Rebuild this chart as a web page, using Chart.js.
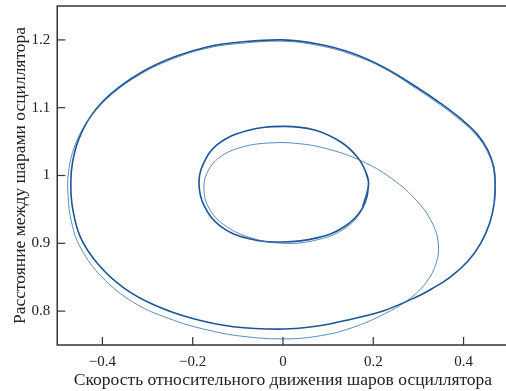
<!DOCTYPE html>
<html>
<head>
<meta charset="utf-8">
<script src="https://cdn.jsdelivr.net/npm/chart.js@4"></script>
<style>
  html, body { margin: 0; padding: 0; background: #fff; overflow: hidden; }
</style>
</head>
<body>
<canvas id="chart" width="510" height="391"></canvas>
<script>
// фазовый портрет: скорость (x) — расстояние (y)
const outerCycle = [
  [0.470, 0.988], [0.467, 1.012], [0.454, 1.037], [0.430, 1.061], [0.395, 1.083],
  [0.350, 1.106], [0.299, 1.129], [0.225, 1.159], [0.151, 1.181], [0.077, 1.194],
  [0.000, 1.200], [-0.092, 1.197], [-0.166, 1.190], [-0.240, 1.175], [-0.314, 1.152],
  [-0.380, 1.121], [-0.424, 1.089], [-0.452, 1.054], [-0.466, 1.020], [-0.470, 0.988],
  [-0.466, 0.952], [-0.448, 0.908], [-0.408, 0.868], [-0.352, 0.834], [-0.285, 0.809],
  [-0.200, 0.789], [-0.110, 0.777], [0.000, 0.7735], [0.077, 0.778], [0.151, 0.788],
  [0.225, 0.801], [0.299, 0.822], [0.330, 0.833], [0.372, 0.851], [0.410, 0.874],
  [0.438, 0.900], [0.458, 0.930], [0.468, 0.960]
];

const innerCycle = [
  [0.1895, 0.987], [0.183, 1.006], [0.165, 1.027], [0.129, 1.049], [0.070, 1.067],
  [0.000, 1.0725], [-0.080, 1.066], [-0.145, 1.046], [-0.178, 1.015], [-0.186, 0.987],
  [-0.175, 0.956], [-0.138, 0.925], [-0.077, 0.907], [0.000, 0.902], [0.075, 0.908],
  [0.135, 0.924], [0.176, 0.952]
];

// переходная траектория с внешнего цикла на внутренний
const transient = [
  [0.468, 0.960], [0.470, 0.988], [0.466, 1.011], [0.453, 1.035], [0.429, 1.059],
  [0.394, 1.081], [0.349, 1.104], [0.298, 1.127], [0.224, 1.158], [0.150, 1.179],
  [0.077, 1.192], [0.000, 1.198], [-0.092, 1.195], [-0.166, 1.188], [-0.240, 1.173],
  [-0.314, 1.150], [-0.382, 1.118], [-0.430, 1.083], [-0.461, 1.044], [-0.475, 1.005],
  [-0.476, 0.970], [-0.468, 0.930], [-0.448, 0.893], [-0.402, 0.851], [-0.329, 0.812],
  [-0.240, 0.786], [-0.166, 0.772], [-0.092, 0.763], [0.000, 0.759], [0.077, 0.763],
  [0.151, 0.775], [0.225, 0.796], [0.280, 0.818], [0.318, 0.843], [0.340, 0.872],
  [0.344, 0.900], [0.332, 0.928], [0.300, 0.960], [0.240, 0.996], [0.172, 1.022],
  [0.100, 1.039], [0.035, 1.047], [-0.030, 1.048], [-0.090, 1.042], [-0.140, 1.027],
  [-0.168, 1.004], [-0.175, 0.978], [-0.164, 0.952], [-0.132, 0.928], [-0.075, 0.909],
  [0.000, 0.900], [0.075, 0.905], [0.135, 0.921], [0.174, 0.948], [0.188, 0.980]
];

const xRange = [-0.5, 0.5];
const yRange = [0.75, 1.25];
const xLabelStep = 0.2;
const yLabelStep = 0.1;

const toPts = arr => arr.map(([x, y]) => ({ x, y }));
// замкнутая кривая: добавляем соседей по краям, чтобы сплайн был гладким в точке стыка
const closedPts = arr => toPts([arr[arr.length - 1], ...arr, arr[0], arr[1]]);
const fmt = v => {
  const r = Math.round(v * 100) / 100;
  return (r < 0 ? '\u2212' : '') + String(Math.abs(r));
};
const isLabelled = (v, step) => Math.abs(Math.round(v / step) * step - v) < 1e-6;

const serif = '"Liberation Serif", "DejaVu Serif", serif';

// рамка и внутренние засечки
const frameTicks = {
  id: 'frameTicks',
  afterDraw(chart) {
    const { ctx, chartArea: a, scales } = chart;
    ctx.save();
    ctx.strokeStyle = '#333';
    ctx.lineWidth = 1.5;
    ctx.strokeRect(a.left, a.top, a.right - a.left, a.bottom - a.top);
    ctx.lineWidth = 1.2;
    scales.x.ticks.forEach(t => {
      const px = scales.x.getPixelForValue(t.value);
      const len = isLabelled(t.value, xLabelStep) ? 8 : 4;
      ctx.beginPath(); ctx.moveTo(px, a.bottom); ctx.lineTo(px, a.bottom - len); ctx.stroke();
    });
    scales.y.ticks.forEach(t => {
      const py = scales.y.getPixelForValue(t.value);
      const len = isLabelled(t.value, yLabelStep) ? 8 : 4;
      ctx.beginPath(); ctx.moveTo(a.left, py); ctx.lineTo(a.left + len, py); ctx.stroke();
    });
    ctx.restore();
  }
};

// подписи не у краёв — лишние отступы шкал не нужны
const noEdgePad = s => { s.paddingTop = 0; s.paddingBottom = 0; s.paddingLeft = 0; s.paddingRight = 0; };

new Chart(document.getElementById('chart'), {
  type: 'scatter',
  data: {
    datasets: [
      { data: toPts(transient), borderColor: 'rgba(50,110,175,0.8)', borderWidth: 1 },
      { data: closedPts(outerCycle), borderColor: '#1c5596', borderWidth: 1.6 },
      { data: closedPts(innerCycle), borderColor: '#1c5596', borderWidth: 1.6 }
    ].map(d => Object.assign(d, { showLine: true, pointRadius: 0, tension: 0.4, fill: false }))
  },
  options: {
    responsive: false,
    animation: false,
    layout: { padding: { top: 6, right: 1.3, left: 9.5, bottom: 0 } },
    plugins: { legend: { display: false }, tooltip: { enabled: false } },
    scales: {
      x: {
        type: 'linear', min: xRange[0], max: xRange[1],
        afterFit: noEdgePad,
        border: { display: false },
        grid: { display: false, drawTicks: false, tickLength: 0 },
        ticks: {
          stepSize: 0.1, autoSkip: false, maxRotation: 0, padding: 8,
          color: '#222', font: { family: serif, size: 15 },
          callback: v => isLabelled(v, xLabelStep) && Math.abs(v) < 0.45 ? fmt(v) : null
        },
        // Chart.js резервирует отступ подписей дважды — компенсируем отрицательным отступом
        title: {
          display: true, text: 'Скорость относительного движения шаров осциллятора',
          color: '#222', font: { family: serif, size: 17.5 }, padding: { top: -9, bottom: 0 }
        }
      },
      y: {
        type: 'linear', min: yRange[0], max: yRange[1],
        afterFit: noEdgePad,
        border: { display: false },
        grid: { display: false, drawTicks: false, tickLength: 0 },
        ticks: {
          stepSize: 0.05, autoSkip: false, padding: 7,
          color: '#222', font: { family: serif, size: 15 },
          callback: v => isLabelled(v, yLabelStep) ? fmt(v) : null
        },
        title: {
          display: true, text: 'Расстояние между шарами осциллятора',
          color: '#222', font: { family: serif, size: 17.5 }, padding: { top: 0, bottom: -6 }
        }
      }
    }
  },
  plugins: [frameTicks]
});
</script>
</body>
</html>
